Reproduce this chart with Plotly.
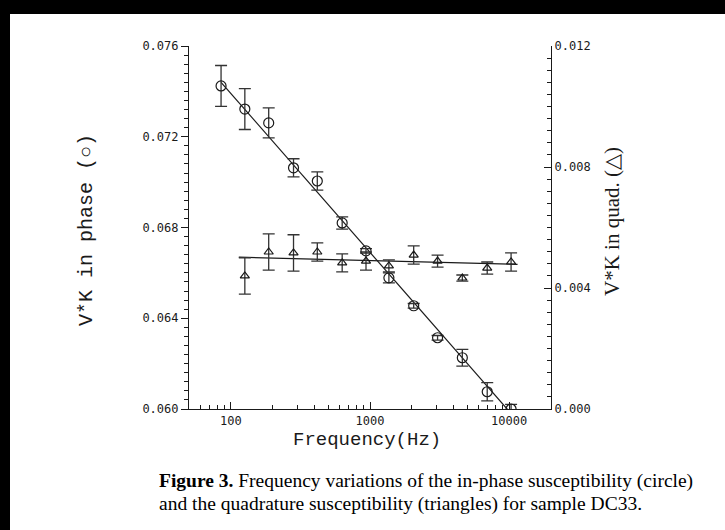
import plotly.graph_objects as go

# ---- data ----
freq_phase = [85, 126, 187, 282, 418, 631, 936, 1367, 2061, 3060, 4610, 6960, 10330]
inphase = [0.07424, 0.07322, 0.07261, 0.07063, 0.07005, 0.06820, 0.06697, 0.06578,
           0.06455, 0.06314, 0.06226, 0.06076, 0.06000]
inphase_err = [0.0009, 0.0009, 0.00066, 0.0004, 0.0004, 0.00027, 0.0001, 0.00022,
               0.0001, 0.0001, 0.00037, 0.0004, 0.0002]

freq_quad = [126, 187, 282, 418, 631, 936, 1367, 2061, 3060, 4610, 6960, 10330]
quad = [0.00440, 0.00519, 0.00516, 0.00519, 0.00483, 0.00489, 0.00473, 0.00509,
        0.00489, 0.00433, 0.00466, 0.00486]
quad_err = [0.0006, 0.0006, 0.0006, 0.0003, 0.0003, 0.0003, 0.0002, 0.0003,
            0.0002, 0.0001, 0.0002, 0.0003]

fit_phase_x = [85, 10000]
fit_phase_y = [0.0744, 0.0599]
fit_quad_x = [114, 11500]
fit_quad_y = [0.00502, 0.00478]

x_ticks = [100, 1000, 10000]
x_ticklabels = ["100", "1000", "10000"]
y1_ticks = [0.060, 0.064, 0.068, 0.072, 0.076]
y2_ticks = [0.000, 0.004, 0.008, 0.012]

# ---- figure ----
INK = "#1a1a1a"
W, H = 725, 530
L, R, T, B = 189, 174, 46, 121
pw, ph = W - L - R, H - T - B

def px(x):
    return (x - L) / pw

def py(y):
    return (H - B - y) / ph

fig = go.Figure()

fig.add_trace(go.Scatter(x=fit_phase_x, y=fit_phase_y, mode="lines",
                         line=dict(color=INK, width=1.2), showlegend=False))
fig.add_trace(go.Scatter(x=freq_phase, y=inphase, mode="markers",
                         marker=dict(symbol="circle-open", size=10, color=INK,
                                     line=dict(width=1.2, color=INK)),
                         error_y=dict(type="data", array=inphase_err, color="#333",
                                      thickness=1.3, width=6),
                         showlegend=False))
fig.add_trace(go.Scatter(x=fit_quad_x, y=fit_quad_y, mode="lines", yaxis="y2",
                         line=dict(color=INK, width=1.2), showlegend=False))
fig.add_trace(go.Scatter(x=freq_quad, y=quad, mode="markers", yaxis="y2",
                         marker=dict(symbol="triangle-up-open", size=8, color=INK,
                                     line=dict(width=1.2, color=INK)),
                         error_y=dict(type="data", array=quad_err, color="#333",
                                      thickness=1.3, width=6),
                         showlegend=False))

tickfont = dict(family="DejaVu Sans Mono", size=12, color=INK)

minor_x = [m * 10 ** d for d in range(1, 5) for m in range(2, 10)
           if 50 <= m * 10 ** d <= 20000]

fig.update_layout(
    width=W, height=H,
    margin=dict(l=L, r=R, t=T, b=B),
    paper_bgcolor="white", plot_bgcolor="white",
    xaxis=dict(type="log", range=[1.69897, 4.30103], showgrid=False, zeroline=False,
               showline=True, linecolor=INK, linewidth=1.2,
               tickvals=x_ticks, ticktext=x_ticklabels, ticks="inside", ticklen=7,
               tickcolor=INK, tickfont=tickfont,
               minor=dict(tickvals=minor_x, ticks="inside", ticklen=4, tickcolor=INK)),
    yaxis=dict(range=[0.060, 0.076], showgrid=False, zeroline=False,
               showline=True, linecolor=INK, linewidth=1.2,
               tickvals=y1_ticks, tickformat=".3f", ticks="outside", ticklen=7,
               tickcolor=INK, tickfont=tickfont,
               minor=dict(dtick=0.0004, ticks="outside", ticklen=4, tickcolor=INK)),
    yaxis2=dict(range=[0.0, 0.012], overlaying="y", side="right", showgrid=False,
                zeroline=False, showline=True, linecolor=INK, linewidth=1.2,
                tickvals=y2_ticks, tickformat=".3f", ticks="inside", ticklen=7,
                tickcolor=INK, tickfont=tickfont,
                minor=dict(dtick=0.0004, ticks="inside", ticklen=4, tickcolor=INK)),
)

# scanned-page black borders
fig.add_shape(type="rect", xref="paper", yref="paper", x0=px(-5), x1=px(W + 5),
              y0=py(14), y1=py(-5), fillcolor="black", line_width=0, layer="above")
fig.add_shape(type="rect", xref="paper", yref="paper", x0=px(-5), x1=px(10),
              y0=py(H + 5), y1=py(-5), fillcolor="black", line_width=0, layer="above")

# axis titles
fig.add_annotation(text="Frequency(Hz)", xref="paper", yref="paper", x=px(367), y=py(440),
                   xanchor="center", yanchor="middle", showarrow=False,
                   font=dict(family="Liberation Mono", size=19, color=INK))
fig.add_annotation(text="V*K in phase (○)", xref="paper", yref="paper", x=px(86), y=py(230),
                   xanchor="center", yanchor="middle", textangle=-90, showarrow=False,
                   font=dict(family="Liberation Mono", size=20, color=INK))
fig.add_annotation(text="V*K in quad. (△)", xref="paper", yref="paper", x=px(612), y=py(222),
                   xanchor="center", yanchor="middle", textangle=-90, showarrow=False,
                   font=dict(family="Liberation Serif", size=21, color=INK))

# caption
capfont = dict(family="Liberation Serif", size=19.5, color="black")
fig.add_annotation(text="<b>Figure 3.</b> Frequency variations of the in-phase susceptibility (circle)",
                   xref="paper", yref="paper", x=px(157), y=py(481),
                   xanchor="left", yanchor="middle", showarrow=False, font=capfont)
fig.add_annotation(text="and the quadrature susceptibility (triangles) for sample DC33.",
                   xref="paper", yref="paper", x=px(157), y=py(504),
                   xanchor="left", yanchor="middle", showarrow=False, font=capfont)

fig.write_html("out.html", config={"displayModeBar": False},
               post_script="document.body.style.margin='0px';document.body.style.overflow='hidden';")
